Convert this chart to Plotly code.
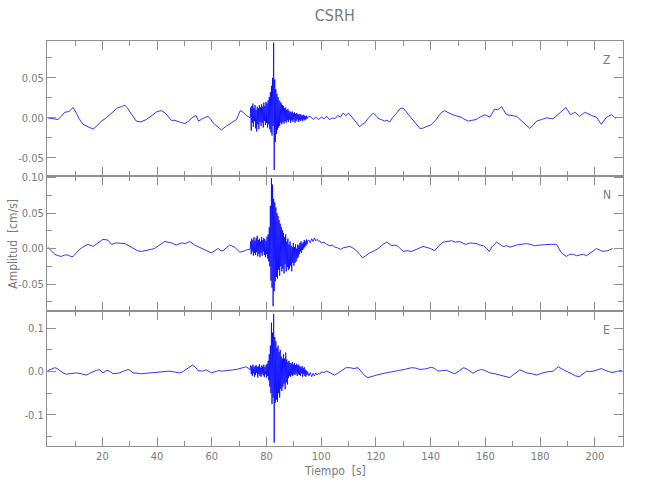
import plotly.graph_objects as go
from plotly.subplots import make_subplots

# ---------------- data ----------------
title = "CSRH"
components = ["Z", "N", "E"]

# burst section: uniformly sampled from 74.0 s every 0.2 s
burst_start = 74.0
burst_dt = 0.2

# ---- Z component (cm/s) ----
z_pre_t = [0, 1.5, 3.8, 5, 6.2, 7.8, 9.3, 10.5, 11.5, 12.9, 14.8, 16.6, 18, 19.6, 21, 22.7, 24,
           25.7, 27, 28.2, 29, 30, 31.2, 32.4, 34, 36.1, 37.3, 38.5, 40, 41.6, 43, 44, 45.2, 46.5,
           47.7, 49, 50.1, 51.5, 53.1, 54.2, 55.2, 56.5, 58.6, 59.5, 60.4, 62, 63.5, 65, 66.5, 68,
           69, 70.4, 71.5, 72.6, 73.9]
z_pre_v = [0.000, -0.001, -0.002, 0.002, 0.007, 0.008, 0.013, 0.006, -0.001, -0.008, -0.011,
           -0.014, -0.010, -0.004, -0.001, 0.004, 0.008, 0.013, 0.014, 0.016, 0.013, 0.008, 0.002,
           -0.004, -0.005, -0.002, 0.001, 0.004, 0.008, 0.009, 0.006, 0.002, -0.003, -0.003,
           -0.004, -0.006, -0.007, -0.004, 0.001, 0.003, -0.004, -0.001, 0.002, -0.001, -0.006,
           -0.011, -0.015, -0.011, -0.008, -0.005, -0.002, 0.009, 0.007, 0.003, 0.000]
z_burst_v = [0.000, 0.013, -0.016, 0.015, -0.006, 0.018, -0.011, 0.012, -0.004, 0.016,
             -0.013, 0.010, -0.017, 0.014, -0.008, 0.012, -0.014, 0.016, -0.005, 0.013,
             -0.010, 0.017, -0.006, 0.014, -0.012, 0.019, -0.004, 0.015, -0.009, 0.020,
             -0.006, 0.018, -0.012, 0.022, -0.008, 0.026, -0.014, 0.032, -0.018, 0.040,
             -0.022, 0.050, -0.010, 0.094, -0.065, 0.048, -0.030, 0.036, -0.020, 0.030,
             -0.015, 0.026, -0.012, 0.022, -0.010, 0.020, -0.006, 0.018, -0.008, 0.016,
             -0.005, 0.015, -0.007, 0.012, -0.004, 0.013, -0.006, 0.010, -0.003, 0.011,
             -0.005, 0.009, -0.002, 0.008, -0.006, 0.007, -0.003, 0.008, -0.005, 0.006,
             -0.002, 0.007, -0.006, 0.005, -0.004, 0.006, -0.002, 0.005, -0.005, 0.004,
             -0.003, 0.005, -0.004, 0.004, -0.002, 0.003, -0.004, 0.004, -0.002, 0.003,
             -0.003, 0.002, -0.002, 0.003, -0.001, 0.001]
z_post_t = [96, 97, 98, 99, 100, 101, 102, 103, 104, 105, 106, 107, 108, 109, 110, 111, 112,
            113, 114, 115, 116, 117, 118, 119, 120, 121, 122, 123, 124, 125, 126, 127, 128, 129,
            130, 131, 132, 133, 134, 135, 136, 137, 138, 139, 140, 141, 142, 143, 144, 145, 146,
            147, 148, 149, 150, 151, 152, 153.7, 155, 156.7, 158, 159.8, 161.6, 163.4, 164.5,
            165.9, 167.7, 169.5, 171.4, 173, 174.5, 176.2, 177.5, 178.7, 180.5, 182.3, 184.8,
            187, 189.4, 191.1, 192.7, 194.5, 196.3, 198.8, 200.6, 202.4, 204.3, 206.1, 207.6]
z_post_v = [0.002, -0.002, 0.001, -0.002, 0.001, -0.001, 0.002, -0.002, 0.000, -0.001, 0.003,
            0.001, 0.006, 0.003, 0.006, 0.002, -0.002, -0.006, -0.011, -0.008, -0.006, -0.001,
            0.002, 0.006, 0.003, -0.001, -0.002, -0.004, -0.003, -0.005, 0.000, 0.004, 0.008,
            0.012, 0.012, 0.008, 0.004, 0.000, -0.004, -0.009, -0.013, -0.013, -0.011, -0.010,
            -0.009, -0.006, -0.002, 0.003, 0.007, 0.009, 0.007, 0.006, 0.004, 0.003, 0.002,
            0.001, -0.001, -0.004, -0.003, -0.002, 0.001, 0.004, 0.001, 0.011, 0.010, 0.014,
            0.004, 0.003, 0.002, -0.003, -0.008, -0.013, -0.009, -0.004, -0.002, 0.000, -0.001,
            0.006, 0.013, 0.004, 0.007, 0.002, 0.007, 0.003, 0.001, -0.008, 0.001, 0.004, -0.001]

# ---- N component (cm/s) ----
n_pre_t = [0, 1.3, 2.6, 3.8, 5, 6.2, 7.4, 8.4, 9.3, 10.5, 11.7, 13.2, 14.7, 16.6, 18.4, 20.2,
           22, 23.3, 25.1, 26.6, 28.2, 29.7, 31.2, 32.8, 34.3, 36.1, 37.9, 39, 40.3, 41.5, 42.8,
           44, 45.2, 47, 48.9, 50.4, 51.9, 53.7, 55.2, 56.8, 58.3, 59.8, 61, 62.3, 63.3, 64.1,
           65.3, 66.5, 68.4, 69.3, 70.2, 71.5, 72.6, 73.9]
n_pre_v = [0.002, -0.003, -0.008, -0.010, -0.011, -0.009, -0.009, -0.011, -0.011, -0.006,
           -0.001, 0.003, 0.006, 0.003, 0.008, 0.013, 0.012, 0.006, 0.008, 0.007, 0.007, 0.004,
           0.000, -0.003, -0.004, -0.003, -0.001, 0.000, 0.003, 0.007, 0.010, 0.009, 0.008,
           0.005, 0.008, 0.007, 0.010, 0.005, 0.002, -0.001, -0.004, -0.006, -0.003, 0.000,
           -0.003, -0.003, 0.001, 0.005, 0.002, -0.002, -0.005, -0.004, -0.002, -0.001]
n_burst_v = [-0.001, 0.010, -0.008, 0.014, -0.004, 0.012, -0.010, 0.016, -0.006, 0.011,
             -0.009, 0.015, -0.005, 0.018, -0.011, 0.012, -0.007, 0.014, -0.012, 0.010,
             -0.006, 0.016, -0.010, 0.012, -0.004, 0.015, -0.009, 0.013, -0.012, 0.011,
             -0.008, 0.017, -0.014, 0.020, -0.018, 0.030, -0.025, 0.060, -0.045, 0.099,
             -0.055, 0.090, -0.081, 0.070, -0.060, 0.065, -0.046, 0.058, -0.040, 0.050,
             -0.042, 0.046, -0.030, 0.040, -0.038, 0.035, -0.025, 0.030, -0.032, 0.026,
             -0.028, 0.022, -0.035, 0.016, -0.022, 0.020, -0.032, 0.010, -0.026, 0.014,
             -0.030, 0.006, -0.028, 0.010, -0.024, 0.004, -0.032, 0.002, -0.020, 0.008,
             -0.024, 0.002, -0.020, 0.006, -0.018, 0.000, -0.014, 0.006, -0.012, 0.004,
             -0.008, 0.008, -0.004, 0.010, -0.006, 0.007, -0.002, 0.009, 0.000, 0.012,
             0.002, 0.010, 0.004, 0.013, 0.006, 0.011]
n_post_t = [95.5, 96, 96.5, 97, 97.5, 98, 98.5, 99, 99.5, 100, 101, 102, 103.1, 104, 105, 106,
            107, 108, 109, 110.4, 111.5, 112.9, 114, 115.1, 116.3, 117.7, 119, 120.8, 122.3,
            123.8, 124.8, 125.7, 127, 128.1, 129.9, 131.5, 133, 134.5, 136, 137.3, 138.5, 140,
            141.5, 143, 144.5, 146, 147.6, 149, 150.6, 152, 153, 154.5, 156.7, 158, 159.2, 160.3,
            161.4, 162.5, 164.1, 165.3, 166.5, 167.8, 169, 170, 171.4, 173, 175, 176.5, 178, 180,
            182.3, 184, 186, 187, 187.8, 189.6, 190.8, 192.1, 193.3, 194.5, 195.8, 197, 198.8,
            200.6, 201.8, 203, 204.7, 206.5]
n_post_v = [0.012, 0.008, 0.014, 0.010, 0.015, 0.011, 0.013, 0.010, 0.011, 0.008, 0.009, 0.006,
            0.004, 0.005, 0.002, 0.001, -0.001, 0.001, 0.002, 0.003, 0.001, -0.003, -0.008,
            -0.013, -0.010, -0.006, -0.004, 0.000, 0.005, 0.009, 0.007, 0.004, 0.005, 0.003,
            -0.004, -0.003, -0.004, -0.001, 0.001, 0.003, 0.002, 0.000, -0.003, 0.004, 0.009,
            0.010, 0.011, 0.009, 0.010, 0.007, 0.006, 0.008, 0.007, 0.005, 0.004, 0.001, -0.004,
            0.003, 0.009, 0.006, 0.003, 0.004, 0.002, 0.003, 0.005, 0.006, 0.007, 0.006, 0.004,
            0.005, 0.006, 0.006, 0.006, 0.000, -0.006, -0.011, -0.008, -0.008, -0.010, -0.009,
            -0.008, -0.010, -0.005, 0.000, -0.002, -0.004, -0.003, 0.000]

# ---- E component (cm/s) ----
e_pre_t = [0, 1.3, 2.6, 3.5, 4.4, 5.6, 6.8, 8.5, 10.5, 12.3, 14.1, 15.4, 16.6, 17.8, 19, 20.2,
           21.7, 22.8, 23.9, 25, 26.3, 27.8, 29.4, 30.3, 31.2, 32.8, 34.3, 35.8, 37.3, 39, 40.9,
           42.7, 44.6, 46.5, 48.3, 49.5, 50.7, 51.8, 52.9, 54, 55, 56.5, 58, 59.9, 61, 62.3,
           63.8, 65.4, 67.2, 69, 70.8, 72.4, 73.3]
e_pre_v = [0.002, 0.006, 0.009, 0.007, 0.002, -0.003, -0.006, -0.004, -0.003, -0.005, -0.008,
           -0.004, 0.000, 0.003, 0.004, -0.003, 0.003, 0.000, -0.005, -0.004, -0.003, 0.001,
           0.005, 0.002, -0.003, -0.004, -0.005, -0.004, -0.003, -0.001, 0.000, 0.000, 0.001,
           -0.001, -0.003, 0.000, 0.005, 0.011, 0.015, 0.010, 0.002, 0.001, 0.004, -0.003,
           0.000, 0.002, 0.001, 0.002, 0.003, 0.005, 0.008, 0.011, 0.008]
e_burst_v = [0.004, 0.014, -0.006, 0.012, -0.010, 0.016, -0.004, 0.010, -0.012, 0.013,
             -0.008, 0.015, -0.003, 0.011, -0.014, 0.012, -0.006, 0.017, -0.010, 0.009,
             -0.012, 0.014, -0.005, 0.012, -0.009, 0.016, -0.013, 0.010, -0.006, 0.015,
             -0.014, 0.018, -0.010, 0.025, -0.020, 0.040, -0.035, 0.060, -0.050, 0.113,
             -0.075, 0.090, -0.060, 0.133, -0.164, 0.080, -0.072, 0.070, -0.065, 0.055,
             -0.070, 0.060, -0.050, 0.045, -0.060, 0.050, -0.040, 0.035, -0.045, 0.030,
             -0.035, 0.040, -0.028, 0.030, -0.041, 0.044, -0.025, 0.028, -0.030, 0.022,
             -0.015, 0.025, -0.010, 0.020, -0.012, 0.018, -0.008, 0.022, -0.010, 0.016,
             -0.006, 0.020, -0.008, 0.015, -0.004, 0.018, -0.010, 0.014, -0.006, 0.016,
             -0.008, 0.012, -0.010, 0.010, -0.004, 0.013, -0.012, 0.008, -0.006, 0.010,
             -0.010, 0.004, -0.012, 0.002, -0.008, 0.000]
e_post_t = [95.5, 96, 96.5, 97, 97.5, 98, 98.5, 99, 99.5, 100, 101, 102, 103, 104, 104.9, 106,
            107, 108, 109.1, 110.4, 112, 113.4, 114.6, 116, 117.1, 118.5, 120.8, 123, 125, 127,
            128.7, 130.5, 133, 134.5, 136, 138, 140.3, 141.5, 142.7, 144, 145.8, 147.5, 148.8,
            150.5, 152.1, 153.5, 155.5, 157, 158.6, 160, 161.6, 163.5, 165.3, 167, 168.9, 170.5,
            172.6, 173.8, 175, 177, 178.7, 180.5, 182.3, 184.8, 186.6, 188, 189.6, 191.5, 193,
            194.3, 195.5, 197, 198, 199.4, 201, 202.4, 203.4, 204.3, 205.5, 206.7, 208.3, 209.9]
e_post_v = [-0.010, -0.002, -0.012, -0.004, -0.010, -0.003, -0.008, -0.004, -0.006, -0.001,
            -0.002, 0.001, -0.002, -0.005, -0.008, -0.004, 0.000, 0.004, 0.009, 0.009, 0.007,
            0.009, 0.001, -0.010, -0.014, -0.011, -0.007, -0.004, -0.001, 0.001, 0.003, 0.005,
            0.009, 0.008, 0.005, 0.006, 0.010, 0.007, 0.001, 0.002, 0.003, -0.002, -0.005,
            0.002, 0.009, 0.005, -0.004, 0.002, 0.005, 0.002, -0.003, -0.005, -0.008, -0.011,
            -0.014, -0.006, 0.004, 0.001, -0.003, -0.005, -0.008, -0.004, -0.001, 0.001, 0.011,
            0.006, 0.001, -0.005, -0.010, -0.012, -0.006, 0.001, 0.000, 0.001, 0.004, 0.007,
            0.004, 0.001, -0.001, -0.002, 0.000, 0.003]

x_tick_labels = [20, 40, 60, 80, 100, 120, 140, 160, 180, 200]
y_tick_values = [[-0.05, 0.0, 0.05], [-0.05, 0.0, 0.05, 0.10], [-0.1, 0.0, 0.1]]
y_tick_labels = [["-0.05", "0.00", "0.05"], ["-0.05", "0.00", "0.05", "0.10"],
                 ["-0.1", "0.0", "0.1"]]
x_title = "Tiempo  [s]"
y_title = "Amplitud  [cm/s]"


def assemble(pre_t, pre_v, burst_v, post_t, post_v):
    burst_t = [burst_start + burst_dt * i for i in range(len(burst_v))]
    return pre_t + burst_t + post_t, pre_v + burst_v + post_v


traces = [
    assemble(z_pre_t, z_pre_v, z_burst_v, z_post_t, z_post_v),
    assemble(n_pre_t, n_pre_v, n_burst_v, n_post_t, n_post_v),
    assemble(e_pre_t, e_pre_v, e_burst_v, e_post_t, e_post_v),
]

# ---------------- figure ----------------
FONT = "DejaVu Sans Condensed, Liberation Sans, sans-serif"
GRAY = "#8f8f8f"
TXT = "#7a7a7a"

fig = make_subplots(rows=3, cols=1, shared_xaxes=True, vertical_spacing=0)

for i, (t, v) in enumerate(traces):
    fig.add_trace(go.Scatter(x=t, y=v, mode="lines",
                             line=dict(color="#0000ff", width=0.8),
                             showlegend=False, hoverinfo="skip"),
                  row=i + 1, col=1)

y_ranges = [[-0.0725, 0.096], [-0.0877, 0.102], [-0.172, 0.140]]
y_minor = [0.025, 0.025, 0.05]

axis_common = dict(showline=True, linecolor=GRAY, linewidth=1, mirror="ticks",
                   ticks="inside", tickcolor=GRAY, tickwidth=1, ticklen=9,
                   showgrid=False, zeroline=False, automargin=False,
                   tickfont=dict(family=FONT, size=11, color=TXT))

for i in range(3):
    fig.update_yaxes(row=i + 1, col=1, range=y_ranges[i], tickmode="array",
                     tickvals=y_tick_values[i], ticktext=y_tick_labels[i],
                     minor=dict(ticks="inside", dtick=y_minor[i], tick0=0,
                                ticklen=5, tickcolor=GRAY),
                     **axis_common)
    fig.update_xaxes(row=i + 1, col=1, range=[-0.25, 210.3], tickmode="array",
                     tickvals=x_tick_labels, ticktext=[str(v) for v in x_tick_labels],
                     minor=dict(ticks="inside", dtick=10, tick0=0, ticklen=5, tickcolor=GRAY),
                     **axis_common)

for i, comp in enumerate(components):
    fig.add_annotation(text=comp, xref=f"x{'' if i == 0 else i + 1} domain",
                       yref=f"y{'' if i == 0 else i + 1} domain",
                       x=0.972, y=0.86, showarrow=False, xanchor="center", yanchor="middle",
                       font=dict(family=FONT, size=12, color=TXT))

fig.add_annotation(text=y_title, xref="paper", yref="paper", x=-0.0605, y=0.5,
                   textangle=-90, showarrow=False, xanchor="center", yanchor="middle",
                   font=dict(family=FONT, size=12, color=TXT))
fig.add_annotation(text=x_title, xref="paper", yref="paper", x=0.5, y=-0.062,
                   showarrow=False, xanchor="center", yanchor="middle",
                   font=dict(family=FONT, size=12, color=TXT))

fig.update_layout(
    width=650, height=500,
    margin=dict(l=47, r=27, t=41, b=54),
    paper_bgcolor="white", plot_bgcolor="white",
    title=dict(text=title, x=0.515, xanchor="center", y=0.97, yanchor="middle",
               font=dict(family=FONT, size=16, color=TXT)),
)

# remove the default page margin so the 650x500 figure fills the window exactly
fig.write_html("out.html", config={"displayModeBar": False},
               post_script="document.body.style.margin='0';document.body.style.overflow='hidden';")
